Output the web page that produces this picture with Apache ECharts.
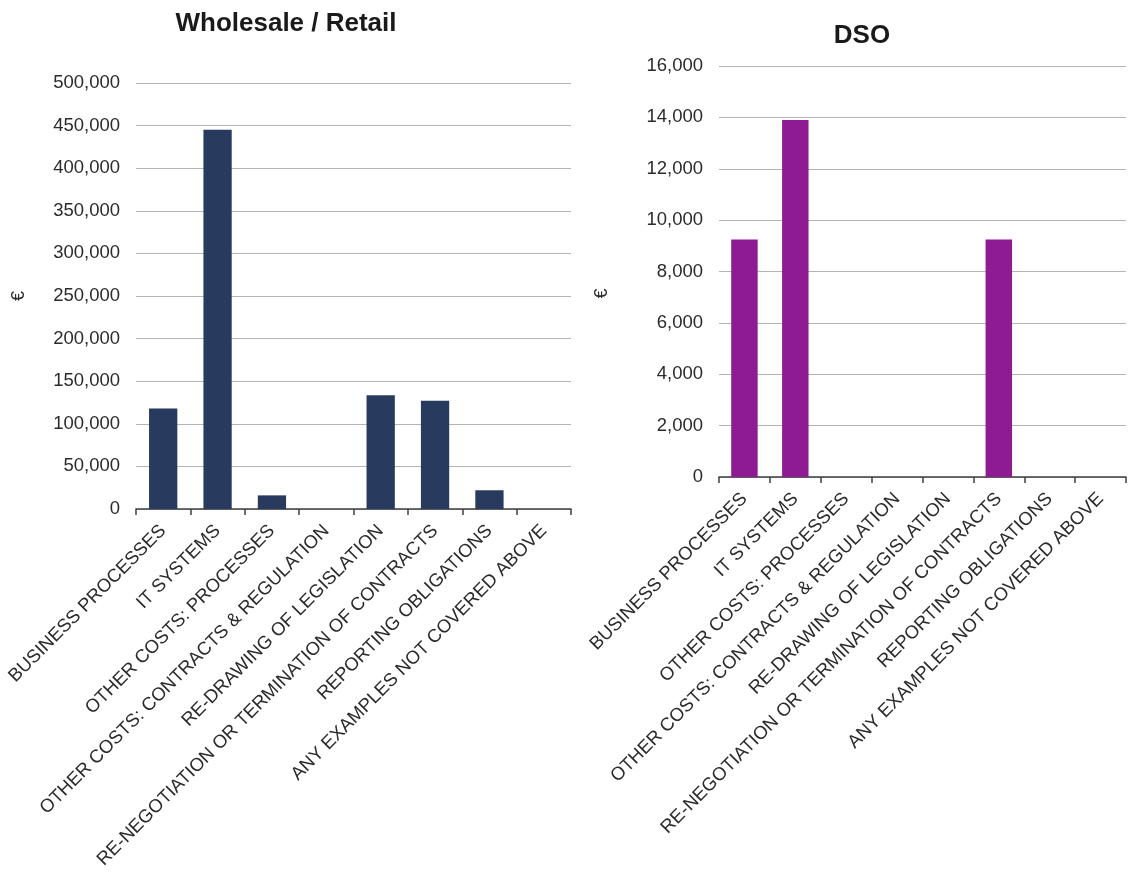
<!DOCTYPE html>
<html>
<head>
<meta charset="utf-8">
<script src="https://cdn.jsdelivr.net/npm/echarts@6/dist/echarts.min.js"></script>
<style>
  html, body { margin: 0; padding: 0; background: #fff; }
  #chart_box { width: 1128px; height: 873px; }
</style>
</head>
<body>
<div id="chart_box"></div>
<script>
// categories shared by both panels
var categories = [
    'BUSINESS PROCESSES',
    'IT SYSTEMS',
    'OTHER COSTS: PROCESSES',
    'OTHER COSTS: CONTRACTS & REGULATION',
    'RE-DRAWING OF LEGISLATION',
    'RE-NEGOTIATION OR TERMINATION OF CONTRACTS',
    'REPORTING OBLIGATIONS',
    'ANY EXAMPLES NOT COVERED ABOVE'
];
// values (euro)
var wholesaleRetail = [118000, 445000, 16000, 0, 133500, 127000, 22000, 0];
var dso = [9250, 13900, 0, 0, 0, 9250, 0, 0];

var leftTicks = { min: 0, max: 500000, interval: 50000 };
var rightTicks = { min: 0, max: 16000, interval: 2000 };

var myChart1 = echarts.init(document.getElementById('chart_box'));

var font = 'Liberation Sans, Arial, sans-serif';

function fmt(v) {
    return Number(v).toLocaleString('en-US');
}

function xAxisCfg(idx) {
    return {
        type: 'category',
        gridIndex: idx,
        data: categories,
        axisLine: { lineStyle: { color: '#404040', width: 1.5 } },
        axisTick: { show: true, length: 6, lineStyle: { color: '#404040', width: 1.5 } },
        axisLabel: {
            rotate: 45,
            interval: 0,
            margin: 19,
            color: '#2b2b2b',
            fontSize: 18.5,
            fontFamily: font
        }
    };
}

function yAxisCfg(idx, t, gap, pad) {
    return {
        type: 'value',
        gridIndex: idx,
        min: t.min,
        max: t.max,
        interval: t.interval,
        name: '€',
        nameLocation: 'middle',
        nameRotate: 90,
        nameGap: gap,
        nameTextStyle: { color: '#2b2b2b', fontSize: 18, fontFamily: font, padding: pad },
        axisLine: { show: false },
        axisTick: { show: false },
        splitLine: { lineStyle: { color: '#b4b4b4', width: 1 } },
        axisLabel: {
            color: '#2b2b2b',
            fontSize: 18.5,
            fontFamily: font,
            margin: 16,
            formatter: fmt
        }
    };
}

var option = {
    animation: false,
    backgroundColor: '#fff',
    title: [
        {
            text: 'Wholesale / Retail',
            left: 281,
            top: 6,
            textAlign: 'center',
            textStyle: { fontSize: 26, fontWeight: 'bold', color: '#1a1a1a', fontFamily: font }
        },
        {
            text: 'DSO',
            left: 857,
            top: 18,
            textAlign: 'center',
            textStyle: { fontSize: 26, fontWeight: 'bold', color: '#1a1a1a', fontFamily: font }
        }
    ],
    grid: [
        { left: 136, right: 557, top: 83, bottom: 364 },
        { left: 719, right: 2, top: 66, bottom: 396 }
    ],
    xAxis: [xAxisCfg(0), xAxisCfg(1)],
    yAxis: [
        yAxisCfg(0, leftTicks, 108, 0),
        yAxisCfg(1, rightTicks, 108, [0, 44, 0, 0])
    ],
    series: [
        {
            name: 'Wholesale / Retail',
            type: 'bar',
            xAxisIndex: 0,
            yAxisIndex: 0,
            data: wholesaleRetail,
            barCategoryGap: '48%',
            itemStyle: { color: '#283b5e' }
        },
        {
            name: 'DSO',
            type: 'bar',
            xAxisIndex: 1,
            yAxisIndex: 1,
            data: dso,
            barCategoryGap: '48%',
            itemStyle: { color: '#8e1b92' }
        }
    ]
};

myChart1.setOption(option);
</script>
</body>
</html>
